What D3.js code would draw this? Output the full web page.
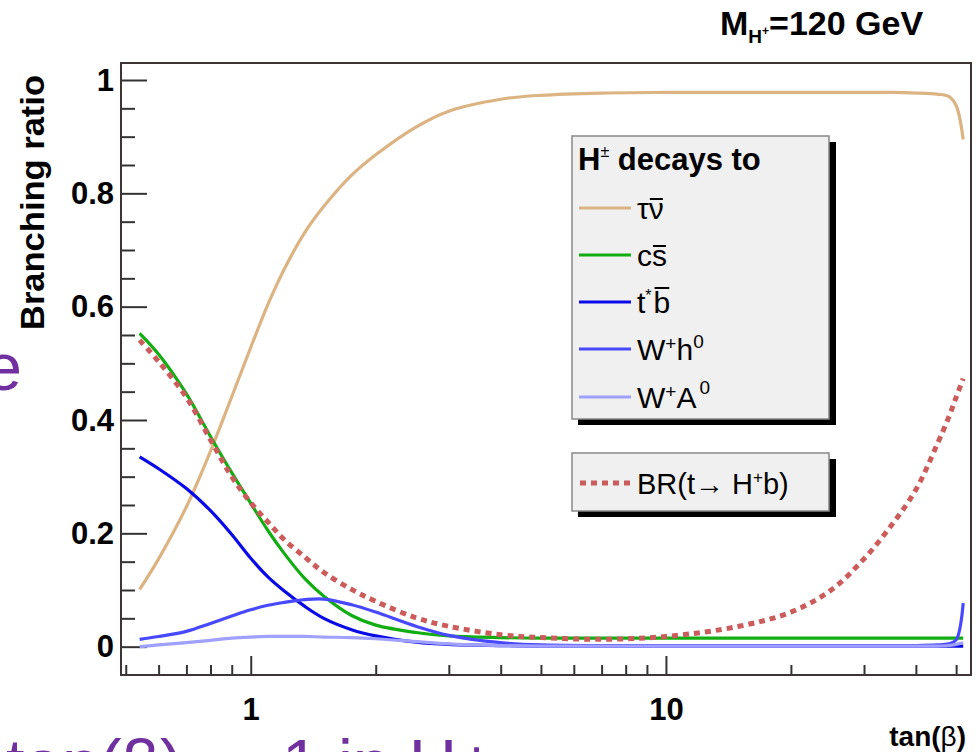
<!DOCTYPE html>
<html><head><meta charset="utf-8">
<script src="https://cdn.jsdelivr.net/npm/d3@7"></script>
<style>
html,body{margin:0;padding:0;background:#fff;}
svg{display:block;font-family:"Liberation Sans",Arial,Helvetica,sans-serif;}
</style></head><body>
<svg id="chart" width="980" height="752"></svg>
<script>
// ---- data ----
const tanBeta  = [0.54,0.6,0.7,0.8,0.9,1.0,1.1,1.2,1.35,1.5,1.75,2,2.5,3,4,5,7,10,15,20,25,30,35,40,45,48,50,52];
const brTauNu  = [0.101,0.155,0.247,0.345,0.441,0.528,0.604,0.664,0.731,0.777,0.832,0.868,0.917,0.945,0.966,0.973,0.977,0.978,0.978,0.978,0.978,0.978,0.978,0.977,0.975,0.971,0.955,0.895];
const brCsbar  = [0.553,0.516,0.446,0.371,0.307,0.253,0.205,0.166,0.120,0.089,0.055,0.038,0.025,0.019,0.016,0.015,0.015,0.015,0.015,0.015,0.015,0.015,0.015,0.015,0.015,0.015,0.015,0.015];
const brTbbar  = [0.335,0.314,0.279,0.240,0.198,0.156,0.123,0.099,0.071,0.050,0.030,0.019,0.008,0.004,0.002,0.001,0.001,0.001,0.001,0.001,0.001,0.001,0.001,0.001,0.001,0.001,0.001,0.001];
const brWh0    = [0.013,0.018,0.027,0.041,0.054,0.065,0.073,0.078,0.083,0.084,0.074,0.061,0.036,0.020,0.007,0.003,0.002,0.002,0.002,0.002,0.002,0.002,0.002,0.002,0.003,0.005,0.012,0.077];
const brWA0    = [0.000,0.003,0.007,0.011,0.015,0.017,0.018,0.018,0.018,0.017,0.016,0.014,0.009,0.005,0.002,0.001,0.001,0.001,0.001,0.001,0.001,0.001,0.001,0.001,0.001,0.002,0.004,0.007];
const brTopHb  = [0.541,0.503,0.440,0.365,0.300,0.254,0.220,0.190,0.158,0.131,0.101,0.080,0.051,0.036,0.021,0.016,0.013,0.018,0.036,0.061,0.100,0.155,0.215,0.277,0.357,0.405,0.440,0.473];

const yMajorTicks = [0,0.2,0.4,0.6,0.8,1];
const yTickLabels = ["0","0.2","0.4","0.6","0.8","1"];
const yMinorTicks = [0.05,0.1,0.15,0.25,0.3,0.35,0.45,0.5,0.55,0.65,0.7,0.75,0.85,0.9,0.95];
const xMajorTicks = [1,10];
const xTickLabels = ["1","10"];
const xMinorTicks = [0.5,0.6,0.7,0.8,0.9,2,3,4,5,6,7,8,9,20,30,40,50];

const seriesNames  = ["tauNu","csbar","tbbar","Wh0","WA0"];
const seriesValues = [brTauNu,brCsbar,brTbbar,brWh0,brWA0];
const seriesColors = ["#dcb483","#12ad12","#0a0ae8","#4848ff","#a0a0ff"];

// ---- layout ----
const svg = d3.select("#chart");
const L=121, R=971, T=63, B=675;
const x = d3.scaleLog().domain([0.487,54.3]).range([L,R]);
const y = d3.scaleLinear().domain([-0.05,1.03]).range([B,T]);
const FONT = '"Liberation Sans",Arial,Helvetica,sans-serif';

// y axis ticks
const yMaj = svg.append("g").attr("transform",`translate(${L},0)`)
  .call(d3.axisLeft(y).tickValues(yMajorTicks).tickSizeInner(-26).tickSizeOuter(0).tickPadding(8)
    .tickFormat((d,i)=>yTickLabels[i]));
const yMin = svg.append("g").attr("transform",`translate(${L},0)`)
  .call(d3.axisLeft(y).tickValues(yMinorTicks).tickSizeInner(-14).tickSizeOuter(0).tickFormat(""));
// x axis ticks
const xMaj = svg.append("g").attr("transform",`translate(0,${B})`)
  .call(d3.axisBottom(x).tickValues(xMajorTicks).tickSizeInner(-19).tickSizeOuter(0)
    .tickFormat((d,i)=>xTickLabels[i]));
const xMin = svg.append("g").attr("transform",`translate(0,${B})`)
  .call(d3.axisBottom(x).tickValues(xMinorTicks).tickSizeInner(-10).tickSizeOuter(0).tickFormat(""));
[yMaj,yMin,xMaj,xMin].forEach(g=>{
  g.select(".domain").remove();
  g.selectAll(".tick line").attr("stroke","#333").attr("stroke-width",2);
});
yMaj.selectAll("text").attr("font-family",FONT).attr("font-size",31).attr("font-weight","bold")
  .attr("fill","#000").attr("dy",null).attr("y",10).attr("x",-7);
xMaj.selectAll("text").attr("font-family",FONT).attr("font-size",31).attr("font-weight","bold")
  .attr("fill","#000").attr("dy",null).attr("y",45);

// frame
svg.append("rect").attr("x",L).attr("y",T).attr("width",R-L).attr("height",B-T)
  .attr("fill","none").attr("stroke","#3d3535").attr("stroke-width",2);

// curves
const line = d3.line().x(d=>x(d[0])).y(d=>y(d[1])).curve(d3.curveCatmullRom.alpha(0.5));
seriesValues.forEach((vals,i)=>{
  svg.append("path").datum(tanBeta.map((t,k)=>[t,vals[k]]))
    .attr("class","series-"+seriesNames[i])
    .attr("d",line).attr("fill","none").attr("stroke",seriesColors[i])
    .attr("stroke-width",3.2).attr("stroke-linejoin","round");
});
svg.append("path").datum(tanBeta.map((t,k)=>[t,brTopHb[k]]))
  .attr("d",line).attr("fill","none").attr("stroke","#cc5b5b")
  .attr("stroke-width",5).attr("stroke-dasharray","6,5");

// rich text helper (with drawn overlines)
function rich(parent, xPos, yPos, segs, base){
  const t = parent.append("text").attr("x",xPos).attr("y",yPos)
    .attr("font-family",FONT).attr("font-size",base.size).attr("font-weight",base.weight||"normal")
    .attr("fill",base.fill||"#000");
  if(base.anchor) t.attr("text-anchor",base.anchor);
  let idx=0, cumDy=0; const overs=[];
  segs.forEach(s=>{
    const ts = t.append("tspan").text(s.t);
    if(s.size) ts.attr("font-size",s.size);
    if(s.dy){ ts.attr("dy",s.dy); cumDy+=s.dy; }
    if(s.dx) ts.attr("dx",s.dx);
    if(s.weight) ts.attr("font-weight",s.weight);
    if(s.over) overs.push({idx, n:s.t.length, off:s.over, base:yPos+cumDy});
    idx += s.t.length;
  });
  overs.forEach(o=>{
    const node=t.node();
    const a=node.getExtentOfChar(o.idx), b=node.getExtentOfChar(o.idx+o.n-1);
    parent.append("line").attr("x1",a.x+1).attr("x2",b.x+b.width-1)
      .attr("y1",o.base-o.off).attr("y2",o.base-o.off).attr("stroke","#000").attr("stroke-width",2);
  });
  return t;
}

// axis titles
svg.append("text").attr("transform","translate(44,330) rotate(-90)")
  .attr("font-family",FONT).attr("font-size",33).attr("font-weight","bold")
  .attr("textLength",255).attr("lengthAdjust","spacingAndGlyphs")
  .text("Branching ratio");
rich(svg, 966, 746, [{t:"tan("},{t:"β",weight:"normal"},{t:")"}], {size:28,weight:"bold",anchor:"end"});

// title
rich(svg, 720, 35, [{t:"M"},{t:"H",size:19,dy:8},{t:"+",size:12,dy:-8},{t:"=120 GeV"}], {size:34,weight:"bold"});

// legend box 1
const lg = svg.append("g");
lg.append("rect").attr("x",578).attr("y",142).attr("width",258).attr("height",283).attr("fill","#000");
lg.append("rect").attr("x",572).attr("y",136).attr("width",257).attr("height",283)
  .attr("fill","#f0f0f0").attr("stroke","#888").attr("stroke-width",1.5);
rich(lg, 578, 170, [{t:"H"},{t:"±",size:16,dy:-13,weight:"normal"},{t:" decays to",dy:13}], {size:31,weight:"bold"});
const legendY = [208,255,302,349,397];
const legendLabels = [
  [{t:"τ"},{t:"ν",over:20}],
  [{t:"c"},{t:"s",over:20}],
  [{t:"t"},{t:"*",size:16,dy:-12},{t:"b",dy:12,dx:2,over:25}],
  [{t:"W"},{t:"+",size:19,dy:-10},{t:"h",dy:10},{t:"0",size:19,dy:-12}],
  [{t:"W"},{t:"+",size:19,dy:-10},{t:"A",dy:10},{t:"0",size:19,dy:-14,dx:3}]
];
seriesNames.forEach((n,i)=>{
  lg.append("line").attr("x1",579).attr("x2",631).attr("y1",legendY[i]).attr("y2",legendY[i])
    .attr("stroke",seriesColors[i]).attr("stroke-width",3.2);
  rich(lg, 637, legendY[i]+11, legendLabels[i], {size:30});
});
// legend box 2
lg.append("rect").attr("x",578).attr("y",459).attr("width",258).attr("height",58).attr("fill","#000");
lg.append("rect").attr("x",572).attr("y",453).attr("width",257).attr("height",58)
  .attr("fill","#f0f0f0").attr("stroke","#888").attr("stroke-width",1.5);
lg.append("line").attr("x1",580).attr("x2",632).attr("y1",483).attr("y2",483)
  .attr("stroke","#cc5b5b").attr("stroke-width",5).attr("stroke-dasharray","6,5");
rich(lg, 637, 494, [{t:"BR(t→ H"},{t:"+",size:17,dy:-11},{t:"b)",dy:11}], {size:29});

// slide text fragments (purple) around the figure
svg.append("text").attr("x",22).attr("y",390).attr("text-anchor","end")
  .attr("font-family",FONT).attr("font-size",67).attr("fill","#7030a0").text("e");
svg.append("text").attr("x",6).attr("y",786)
  .attr("font-family",FONT).attr("font-size",67).attr("fill","#7030a0").text("tan(β) ~");
svg.append("text").attr("x",282).attr("y",786)
  .attr("font-family",FONT).attr("font-size",67).attr("fill","#7030a0").text("1 in H+");
</script>
</body></html>
